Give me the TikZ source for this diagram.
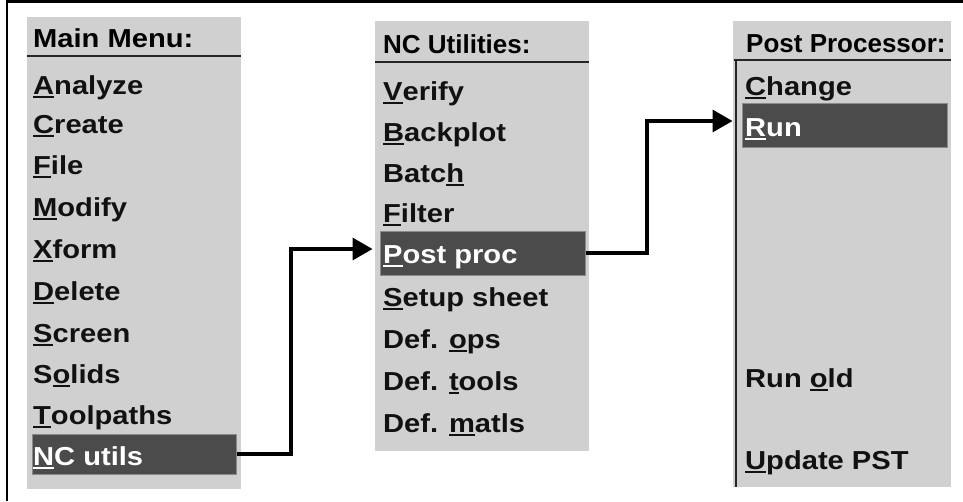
\documentclass[tikz,border=0pt]{standalone}
\usepackage{fontspec}
\setmainfont{Liberation Sans}[FakeStretch=1.12]
\newfontfamily\plainhdr{Liberation Sans}
\usetikzlibrary{arrows.meta}
\definecolor{panel}{HTML}{D0D0D0}
\definecolor{hil}{HTML}{4B4B4B}
\definecolor{hilb}{HTML}{8A8A8A}
\definecolor{ink}{HTML}{111111}
\newcommand\ulk[1]{\setbox0\hbox{#1}\rlap{\rule[-4pt]{\wd0}{2pt}}\box0}
\begin{document}
\begin{tikzpicture}[x=1pt,y=-1pt,
  font=\fontsize{26}{30}\selectfont\bfseries,
  item/.style={anchor=base west, inner sep=0pt, text=ink},
  selitem/.style={anchor=base west, inner sep=0pt, text=white},
  hdr/.style={anchor=base west, inner sep=0pt, text=black},
  sel/.style={fill=hil, draw=hilb, line width=1pt, inner sep=0pt},
  hline/.style={line width=2pt, draw=black!85},
  arr/.style={line width=3.5pt, -{Triangle[length=20pt,width=22pt]}}]
\useasboundingbox (0,0) rectangle (963,501);
% outer frame (top and left)
\draw[line width=3pt] (6,1.5) -- (963,1.5);
\draw[line width=2.5pt] (7,0) -- (7,501);
% panels
\fill[panel] (27,17) rectangle (241,489);
\fill[panel] (375,21) rectangle (589,451);
\fill[panel] (733,21) rectangle (951,487);
\draw[hline] (27,56) -- (241,56);
\draw[hline] (375,62) -- (589,62);
\draw[hline] (734,60) -- (951,60);
\draw[line width=1.5pt, draw=black!85] (736,60) -- (736,487);
% highlights
\node[sel, minimum width=204pt, minimum height=40pt] (nc) at (134,454) {};
\node[sel, minimum width=205pt, minimum height=44pt] (pp) at (482.5,253) {};
\node[sel, minimum width=205pt, minimum height=44pt] (run) at (844.5,125) {};
% panel 1
\node[hdr] (h1) at (33,47) {Main Menu:};
\node[item] (m1) at (33,94) {\ulk{A}nalyze};
\node[item] (m2) at (33,133) {\ulk{C}reate};
\node[item] (m3) at (33,174) {\ulk{F}ile};
\node[item] (m4) at (33,216) {\ulk{M}odify};
\node[item] (m5) at (33,258) {\ulk{X}form};
\node[item] (m6) at (33,300) {\ulk{D}elete};
\node[item] (m7) at (33,342) {\ulk{S}creen};
\node[item] (m8) at (33,383) {S\ulk{o}lids};
\node[item] (m9) at (33,424) {\ulk{T}oolpaths};
\node[selitem] (m10) at (33,465) {\ulk{N}C utils};
% panel 2
\node[hdr, font=\fontsize{26}{30}\plainhdr\bfseries] (h2) at (383,53) {NC Utilities:};
\node[item] (n1) at (383,100) {\ulk{V}erify};
\node[item] (n2) at (383,141) {\ulk{B}ackplot};
\node[item] (n3) at (383,182) {Batc\ulk{h}};
\node[item] (n4) at (383,222) {\ulk{F}ilter};
\node[selitem] (n5) at (383,263) {\ulk{P}ost proc};
\node[item] (n6) at (383,306) {\ulk{S}etup sheet};
\node[item] (n7) at (383,348) {Def. \ulk{o}ps};
\node[item] (n8) at (383,390) {Def. \ulk{t}ools};
\node[item] (n9) at (383,432) {Def. \ulk{m}atls};
% panel 3
\node[hdr, font=\fontsize{26}{30}\plainhdr\bfseries] (h3) at (746,52) {Post Processor:};
\node[item] (r1) at (745,95) {\ulk{C}hange};
\node[selitem] (r2) at (745,136) {\ulk{R}un};
\node[item] (r3) at (745,387) {Run \ulk{o}ld};
\node[item] (r4) at (745,469) {\ulk{U}pdate PST};
% connectors
\coordinate (v1) at (291,0);
\coordinate (v2) at (647,0);
\draw[arr, shorten >=7pt] (nc.east) -- (v1 |- nc.east) -- ([yshift=4pt]v1 |- pp.west) -- ([yshift=4pt]pp.west);
\draw[arr, shorten >=9pt] (pp.east) -- (v2 |- pp.east) -- ([yshift=4pt]v2 |- run.west) -- ([yshift=4pt]run.west);
\end{tikzpicture}
\end{document}
